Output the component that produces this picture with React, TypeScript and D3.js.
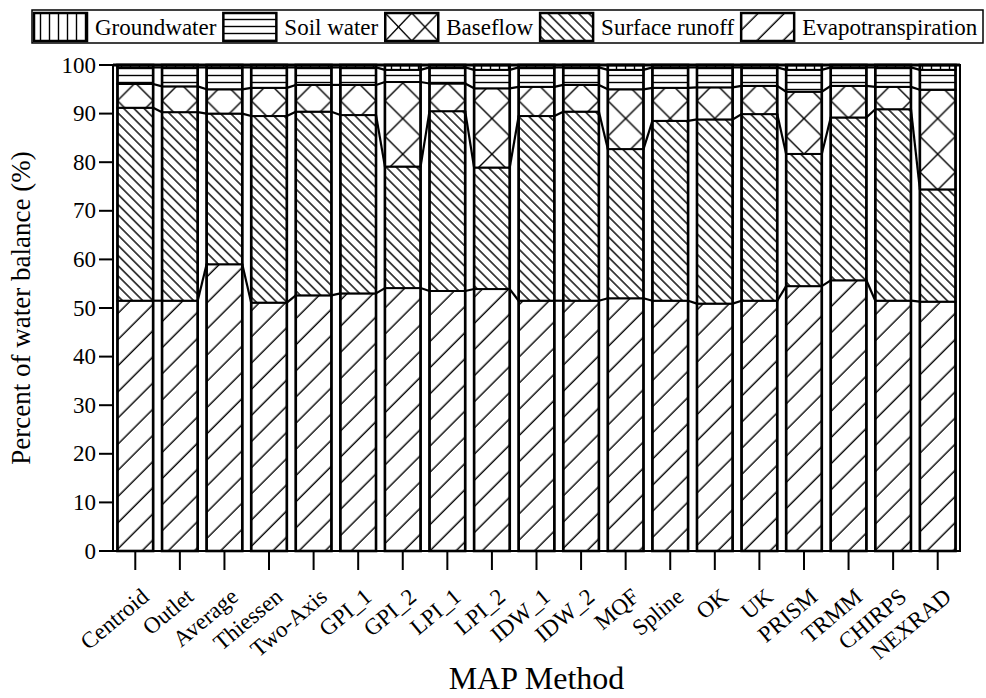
import React from 'react'
import * as d3 from 'd3'

// MAP methods along the x axis
const methods = ['Centroid', 'Outlet', 'Average', 'Thiessen', 'Two-Axis', 'GPI_1', 'GPI_2', 'LPI_1', 'LPI_2', 'IDW_1', 'IDW_2', 'MQF', 'Spline', 'OK', 'UK', 'PRISM', 'TRMM', 'CHIRPS', 'NEXRAD']

// percent of water balance per component
const evapotranspiration = [51.5, 51.5, 59.0, 51.1, 52.6, 53.0, 54.1, 53.5, 53.9, 51.5, 51.5, 52.0, 51.5, 50.9, 51.5, 54.5, 55.7, 51.5, 51.3]
const surfaceRunoff = [39.7, 38.8, 31.0, 38.4, 37.8, 36.7, 25.0, 37.0, 25.0, 38.0, 38.9, 30.7, 37.0, 37.9, 38.4, 27.2, 33.5, 39.4, 23.1]
const baseflow = [4.9, 5.3, 5.0, 5.8, 5.5, 6.2, 17.4, 5.7, 16.3, 6.0, 5.5, 12.3, 6.8, 6.6, 5.8, 12.8, 6.5, 4.6, 20.5]
const soilWater = [3.4, 3.9, 4.5, 4.2, 3.6, 3.6, 2.5, 3.3, 3.8, 4.0, 3.6, 4.0, 4.2, 4.1, 3.8, 4.5, 3.8, 4.0, 4.1]
const groundwater = [0.5, 0.5, 0.5, 0.5, 0.5, 0.5, 1.0, 0.5, 1.0, 0.5, 0.5, 1.0, 0.5, 0.5, 0.5, 1.0, 0.5, 0.5, 1.0]

const yTicks = [0, 10, 20, 30, 40, 50, 60, 70, 80, 90, 100]

const keys = ['evapotranspiration', 'surfaceRunoff', 'baseflow', 'soilWater', 'groundwater']
const labels = {
  evapotranspiration: 'Evapotranspiration',
  surfaceRunoff: 'Surface runoff',
  baseflow: 'Baseflow',
  soilWater: 'Soil water',
  groundwater: 'Groundwater'
}
const legendOrder = ['groundwater', 'soilWater', 'baseflow', 'surfaceRunoff', 'evapotranspiration']

const W = 986
const H = 698
const left = 113
const right = 960
const top = 65
const bottom = 551
const font = '"Liberation Serif", "Times New Roman", serif'

const measure = (txt, size) => {
  const ctx = document.createElement('canvas').getContext('2d')
  ctx.font = `${size}px "Liberation Serif"`
  return ctx.measureText(txt).width
}

export default function App() {
  const rows = methods.map((m, i) => ({
    method: m,
    evapotranspiration: evapotranspiration[i],
    surfaceRunoff: surfaceRunoff[i],
    baseflow: baseflow[i],
    soilWater: soilWater[i],
    groundwater: groundwater[i]
  }))
  const series = d3.stack().keys(keys)(rows)

  const x = d3.scaleBand().domain(methods).range([left, right]).paddingInner(0.2).paddingOuter(0.1)
  const y = d3.scaleLinear().domain([0, 100]).range([bottom, top])
  const bw = x.bandwidth()
  const step = x.step()

  const fills = {
    evapotranspiration: 'url(#evap)',
    surfaceRunoff: 'url(#surf)',
    baseflow: 'url(#base)',
    soilWater: 'url(#soil)',
    groundwater: 'url(#gw)'
  }

  // legend layout
  const legSize = 23
  const swW = 53
  const swH = 28
  let lx = 34
  const legendItems = legendOrder.map((k) => {
    const item = { key: k, x: lx }
    lx += swW + 8 + measure(labels[k], legSize) + 7
    return item
  })
  const legFill = (k) => (k === 'baseflow' ? 'url(#base-leg)' : fills[k])
  const baseLeg = legendItems.find((d) => d.key === 'baseflow')

  return (
    <svg width={W} height={H} style={{ position: 'absolute', left: 0, top: 0, background: '#fff' }} fontFamily={font}>
      <defs>
        <pattern id="evap" patternUnits="userSpaceOnUse" width={18.5} height={18.5} patternTransform="rotate(45)">
          <rect width={18.5} height={18.5} fill="#fff" />
          <line x1={9} y1={0} x2={9} y2={18.5} stroke="#000" strokeWidth={1.4} />
        </pattern>
        <pattern id="surf" patternUnits="userSpaceOnUse" width={7.2} height={7.2} patternTransform="rotate(-45)">
          <rect width={7.2} height={7.2} fill="#fff" />
          <line x1={3.6} y1={0} x2={3.6} y2={7.2} stroke="#000" strokeWidth={1.4} />
        </pattern>
        <pattern id="base" patternUnits="userSpaceOnUse" x={x(methods[0])} y={top} width={step} height={bw}>
          <rect width={step} height={bw} fill="#fff" />
          <line x1={0} y1={0} x2={bw} y2={bw} stroke="#000" strokeWidth={1.4} />
          <line x1={bw} y1={0} x2={0} y2={bw} stroke="#000" strokeWidth={1.4} />
        </pattern>
        <pattern id="base-leg" patternUnits="userSpaceOnUse" x={baseLeg.x} y={13} width={swW / 2} height={swH}>
          <rect width={swW / 2} height={swH} fill="#fff" />
          <line x1={0} y1={0} x2={swW / 2} y2={swH} stroke="#000" strokeWidth={1.4} />
          <line x1={swW / 2} y1={0} x2={0} y2={swH} stroke="#000" strokeWidth={1.4} />
        </pattern>
        <pattern id="soil" patternUnits="userSpaceOnUse" width={10} height={7} y={top}>
          <rect width={10} height={7} fill="#fff" />
          <line x1={0} y1={3.5} x2={10} y2={3.5} stroke="#000" strokeWidth={1.4} />
        </pattern>
        <pattern id="gw" patternUnits="userSpaceOnUse" width={9} height={10}>
          <rect width={9} height={10} fill="#fff" />
          <line x1={4.5} y1={0} x2={4.5} y2={10} stroke="#000" strokeWidth={1.4} />
        </pattern>
      </defs>

      {/* legend */}
      <rect x={32} y={10} width={951} height={33} fill="#fff" stroke="#000" strokeWidth={1.5} />
      {legendItems.map((d) => (
        <g key={d.key}>
          <rect x={d.x} y={13} width={swW} height={swH} fill={legFill(d.key)} stroke="#000" strokeWidth={2.5} />
          <text x={d.x + swW + 8} y={27} dominantBaseline="central" fontSize={legSize}>
            {labels[d.key]}
          </text>
        </g>
      ))}

      {/* stacked bars */}
      {series.map((s) => (
        <g key={s.key}>
          {s.map((d) => (
            <rect
              key={d.data.method}
              x={x(d.data.method)}
              y={y(d[1])}
              width={bw}
              height={y(d[0]) - y(d[1])}
              fill={fills[s.key]}
              stroke="#000"
              strokeWidth={2}
            />
          ))}
        </g>
      ))}
      {methods.map((m) => (
        <rect key={m} x={x(m)} y={y(100)} width={bw} height={y(0) - y(100)} fill="none" stroke="#000" strokeWidth={2.6} />
      ))}

      {/* connecting lines between bars */}
      {series.slice(0, 4).map((s) =>
        s.slice(0, -1).map((d, i) => (
          <line
            key={s.key + i}
            x1={x(d.data.method) + bw}
            y1={y(d[1])}
            x2={x(s[i + 1].data.method)}
            y2={y(s[i + 1][1])}
            stroke="#000"
            strokeWidth={2.2}
          />
        ))
      )}

      {/* frame */}
      <rect x={left} y={top} width={right - left} height={bottom - top} fill="none" stroke="#000" strokeWidth={2} />
      <line x1={left} x2={right} y1={top} y2={top} stroke="#000" strokeWidth={3} />

      {/* y axis */}
      {yTicks.map((t) => (
        <g key={t}>
          <line x1={left - 14} x2={left} y1={y(t)} y2={y(t)} stroke="#000" strokeWidth={2} />
          <text x={left - 17} y={y(t)} textAnchor="end" dominantBaseline="central" fontSize={23}>
            {t}
          </text>
        </g>
      ))}
      <text transform={`translate(21,${(top + bottom) / 2}) rotate(-90)`} textAnchor="middle" dominantBaseline="central" fontSize={27}>
        Percent of water balance (%)
      </text>

      {/* x axis */}
      {methods.map((m) => {
        const cx = x(m) + bw / 2
        return (
          <g key={m}>
            <line x1={cx} x2={cx} y1={bottom} y2={bottom + 19} stroke="#000" strokeWidth={2} />
            <text transform={`translate(${cx + 15},${bottom + 48}) rotate(-40)`} textAnchor="end" fontSize={23}>
              {m}
            </text>
          </g>
        )
      })}
      <text x={(left + right) / 2} y={689} textAnchor="middle" fontSize={32}>
        MAP Method
      </text>
    </svg>
  )
}
